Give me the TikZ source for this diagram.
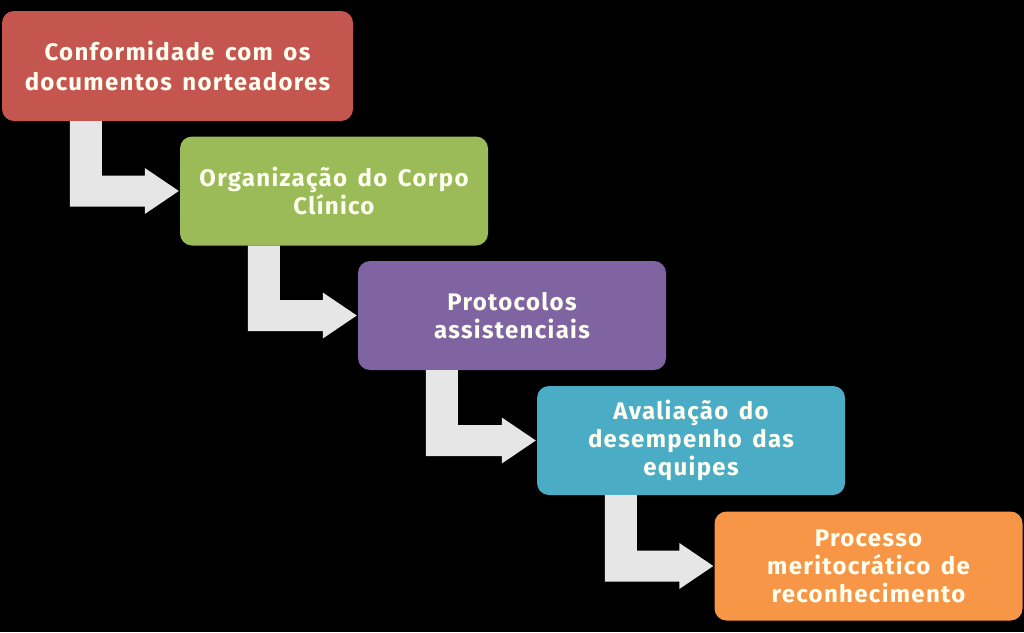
\documentclass[tikz,border=0pt]{standalone}
\usepackage{fontspec}
\setmainfont{Fira Sans}
\newfontfamily\boxfont{Fira Sans}[LetterSpace=5.5,WordSpace=1.5]
\usetikzlibrary{calc}
\definecolor{bred}{HTML}{C5554F}
\definecolor{bgreen}{HTML}{9BBB59}
\definecolor{bpurple}{HTML}{8064A2}
\definecolor{bblue}{HTML}{4BACC6}
\definecolor{borange}{HTML}{F79646}
\definecolor{arrowgrey}{HTML}{E6E6E6}
\definecolor{cream}{HTML}{FFFFF2}
\tikzset{
  stepbox/.style={rounded corners=12pt, minimum width=308pt, minimum height=109pt,
    inner sep=0pt, align=center, text=cream, font=\boxfont\fontsize{24}{28}\selectfont\bfseries},
  elbow/.style={fill=arrowgrey}
}
\begin{document}
\begin{tikzpicture}[x=1pt,y=-1pt]
\fill[black] (0,0) rectangle (1024,632);
\useasboundingbox (0,0) rectangle (1024,632);
\node[stepbox, fill=bred, minimum width=351pt, minimum height=110pt] (b1) at (177.5,66) {Conformidade com os\\[2pt]documentos norteadores};
\node[stepbox, fill=bgreen] (b2) at (334,191) {Organização do Corpo\\Clínico};
\node[stepbox, fill=bpurple] (b3) at (512,315.5) {Protocolos\\assistenciais};
\node[stepbox, fill=bblue] (b4) at (691,440.5) {Avaliação do\\desempenho das\\equipes};
\node[stepbox, fill=borange] (b5) at (868.5,566) {Processo\\meritocrático de\\reconhecimento};
\foreach \a/\b in {b1/b2,b2/b3,b3/b4,b4/b5}{
  \fill[elbow] let \p1=(\a.south west), \p2=(\b.west) in
    (\x1+68pt,\y1) -- (\x1+100pt,\y1) -- (\x1+100pt,\y2+15.5pt) -- (\x2-35pt,\y2+15.5pt)
    -- (\x2-35pt,\y2+23pt) -- (\x2-1pt,\y2) -- (\x2-35pt,\y2-23pt) -- (\x2-35pt,\y2-15.5pt)
    -- (\x1+68pt,\y2-15.5pt) -- cycle;
}
\end{tikzpicture}
\end{document}
